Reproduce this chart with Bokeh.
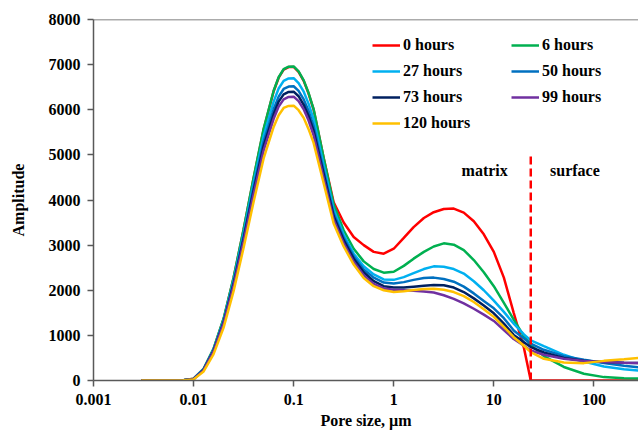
from bokeh.plotting import figure
from bokeh.models import (Legend, LegendItem, Label, Span, FixedTicker,
                          CustomJSTickFormatter, Range1d)
from bokeh.embed import file_html
from bokeh.resources import INLINE

# ---------------- data ----------------
pore_size_um = [0.003, 0.006, 0.0079, 0.01, 0.0126, 0.0158, 0.02, 0.0251, 0.0316, 0.0398,
                0.0501, 0.0631, 0.0708, 0.0794, 0.0891, 0.1, 0.112, 0.126, 0.141, 0.158,
                0.2, 0.251, 0.316, 0.398, 0.501, 0.631, 0.794, 1.0, 1.26, 1.58,
                2.0, 2.51, 3.16, 3.98, 5.01, 6.31, 7.94, 10.0, 12.6, 15.8,
                20.0, 23.4, 31.6, 50.1, 79.4, 126, 200, 282]

amp_0h = [0, 0, 5, 40, 255, 690, 1370, 2270, 3340, 4480,
          5560, 6410, 6710, 6890, 6945, 6950, 6840, 6640, 6360, 6010,
          4920, 3950, 3500, 3180, 3000, 2850, 2810, 2920, 3160, 3400,
          3600, 3730, 3800, 3810, 3720, 3530, 3240, 2850, 2280, 1500,
          720, 0, 0, 0, 0, 0, 0, 0]
amp_6h = [0, 0, 5, 40, 260, 700, 1380, 2280, 3350, 4500,
          5580, 6420, 6720, 6900, 6955, 6960, 6850, 6650, 6370, 6020,
          4920, 3900, 3330, 2920, 2640, 2470, 2390, 2410, 2540, 2700,
          2850, 2970, 3040, 3010, 2890, 2670, 2400, 2090, 1720, 1350,
          980, 790, 540, 300, 150, 75, 52, 44]
amp_27h = [0, 0, 4, 35, 250, 680, 1340, 2220, 3260, 4380,
           5420, 6180, 6470, 6640, 6695, 6700, 6590, 6400, 6130, 5800,
           4760, 3790, 3230, 2810, 2530, 2350, 2240, 2230, 2290, 2380,
           2470, 2530, 2520, 2470, 2370, 2200, 2000, 1770, 1520, 1260,
           1020, 890, 760, 570, 420, 310, 250, 220]
amp_50h = [0, 0, 4, 33, 240, 660, 1310, 2170, 3190, 4280,
           5290, 6010, 6290, 6460, 6515, 6520, 6420, 6230, 5970, 5640,
           4640, 3700, 3160, 2750, 2460, 2280, 2170, 2150, 2180, 2230,
           2270, 2280, 2250, 2190, 2080, 1930, 1760, 1600, 1380, 1110,
           930, 815, 680, 540, 460, 390, 325, 290]
amp_73h = [0, 0, 4, 32, 235, 650, 1290, 2140, 3140, 4210,
           5200, 5900, 6180, 6340, 6395, 6400, 6300, 6110, 5860, 5540,
           4570, 3640, 3110, 2700, 2400, 2200, 2090, 2060, 2060, 2080,
           2100, 2115, 2110, 2060, 1960, 1820, 1660, 1490, 1260, 1010,
           850, 740, 620, 500, 440, 410, 395, 385]
amp_99h = [0, 0, 4, 30, 230, 640, 1270, 2100, 3080, 4130,
           5100, 5800, 6070, 6230, 6285, 6290, 6190, 6010, 5760, 5440,
           4470, 3560, 3040, 2630, 2330, 2140, 2040, 2010, 2000, 1990,
           1970, 1950, 1890, 1810, 1710, 1590, 1460, 1320, 1120, 920,
           770, 665, 570, 480, 430, 410, 395, 385]
amp_120h = [0, 0, 3, 25, 200, 580, 1180, 1980, 2940, 3960,
            4920, 5620, 5880, 6040, 6085, 6090, 5990, 5820, 5570, 5270,
            4360, 3480, 2970, 2570, 2270, 2090, 2000, 1960, 1980, 2005,
            2030, 2035, 2010, 1960, 1870, 1740, 1580, 1410, 1190, 960,
            770, 630, 480, 400, 385, 435, 470, 498]

series_labels = ["0 hours", "6 hours", "27 hours", "50 hours",
                 "73 hours", "99 hours", "120 hours"]
series_values = [amp_0h, amp_6h, amp_27h, amp_50h, amp_73h, amp_99h, amp_120h]
series_colors = ["#FF0000", "#00B050", "#00B0F0", "#0070C0",
                 "#002060", "#7030A0", "#FFC000"]

boundary_um = 23.4          # matrix / surface boundary
boundary_top = 5030         # top of the dashed boundary line
region_labels = ["matrix", "surface"]
region_x = [8.1, 64.6]
region_y = [4650, 4650]

x_title = "Pore size, µm"
y_title = "Amplitude"
x_ticks = [0.001, 0.01, 0.1, 1, 10, 100]
x_tick_labels = ["0.001", "0.01", "0.1", "1", "10", "100"]
y_ticks = [0, 1000, 2000, 3000, 4000, 5000, 6000, 7000, 8000]

# ---------------- figure ----------------
FONT = "Liberation Serif"
AX = "#595959"

p = figure(width=638, height=431, x_axis_type="log",
           x_range=Range1d(0.001, 279), y_range=Range1d(0, 8000),
           output_backend="svg", toolbar_location=None,
           min_border_left=93, min_border_right=0, min_border_top=19,
           min_border_bottom=51)
p.xgrid.visible = False
p.ygrid.visible = False
p.outline_line_color = None
p.background_fill_color = "white"
p.border_fill_color = "white"

renderers = []
for vals, col in zip(series_values, series_colors):
    r = p.line(pore_size_um, vals, line_color=col, line_width=2.5)
    renderers.append(r)

p.line([boundary_um, boundary_um], [0, boundary_top], line_color="#FF0000",
       line_width=2.5, line_dash="8 4")

p.add_layout(Span(location=8000, dimension="width", line_color=AX, line_width=1.5))

for t, xx, yy in zip(region_labels, region_x, region_y):
    p.add_layout(Label(x=xx, y=yy, text=t, text_align="center", text_baseline="middle",
                       text_font=FONT, text_font_style="bold", text_font_size="16px",
                       text_color="black"))

# axes
for ax in (p.xaxis[0], p.yaxis[0]):
    ax.axis_line_color = AX
    ax.axis_line_width = 1.5
    ax.major_tick_line_color = AX
    ax.major_tick_line_width = 1.5
    ax.major_tick_out = 6
    ax.major_tick_in = 0
    ax.minor_tick_line_color = None
    ax.major_label_text_font = FONT
    ax.major_label_text_font_style = "bold"
    ax.major_label_text_font_size = "16px"
    ax.major_label_text_color = "black"
    ax.axis_label_text_font = FONT
    ax.axis_label_text_font_style = "bold"
    ax.axis_label_text_font_size = "16px"
    ax.axis_label_text_color = "black"

p.xaxis[0].ticker = FixedTicker(ticks=x_ticks)
p.xaxis[0].formatter = CustomJSTickFormatter(
    args=dict(xt=x_ticks, xl=x_tick_labels),
    code="""
    for (let i = 0; i < xt.length; i++) {
        if (Math.abs(Math.log10(xt[i]) - Math.log10(tick)) < 1e-6) return xl[i];
    }
    return '';
    """)
p.xaxis[0].axis_label = x_title
p.xaxis[0].major_label_standoff = 7
p.xaxis[0].axis_label_standoff = 4

p.yaxis[0].ticker = FixedTicker(ticks=y_ticks)
p.yaxis[0].axis_label = y_title
p.yaxis[0].major_label_standoff = 7
p.yaxis[0].axis_label_standoff = 19

# legends (two columns)
leg_common = dict(border_line_color=None, background_fill_alpha=0, padding=0, margin=0,
                  spacing=6, glyph_width=28, glyph_height=20, label_height=20,
                  label_standoff=3, label_text_font=FONT, label_text_font_style="bold",
                  label_text_font_size="16px", label_text_color="black",
                  label_text_baseline="middle")
col1 = [0, 2, 4, 6]
col2 = [1, 3, 5]
leg1 = Legend(items=[LegendItem(label=series_labels[i], renderers=[renderers[i]]) for i in col1],
              location=(279, 247), **leg_common)
leg2 = Legend(items=[LegendItem(label=series_labels[i], renderers=[renderers[i]]) for i in col2],
              location=(418, 273), **leg_common)
p.add_layout(leg1)
p.add_layout(leg2)

open("out.html", "w").write(file_html(p, INLINE))
